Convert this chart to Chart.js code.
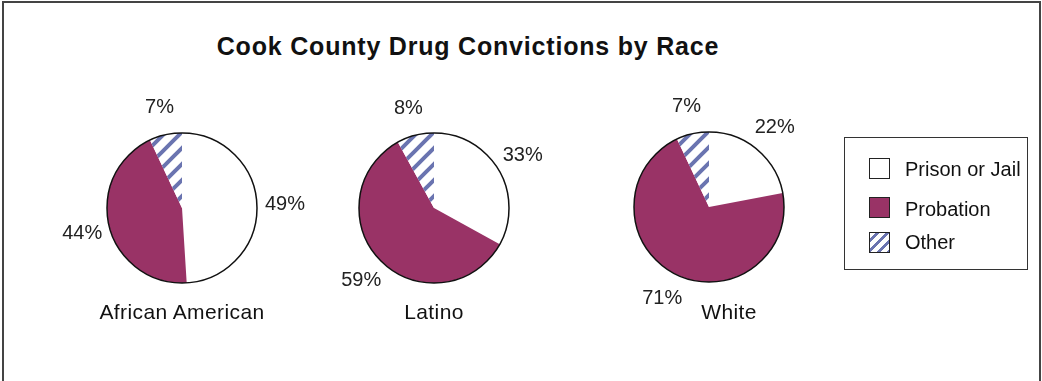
<!DOCTYPE html>
<html>
<head>
<meta charset="utf-8">
<script src="https://cdn.jsdelivr.net/npm/chart.js@4.4.1/dist/chart.umd.min.js"></script>
<style>
  body { margin: 0; background: #fff; font-family: "Liberation Sans", Arial, sans-serif; color: #111; }
  #frame { position: absolute; left: 2px; top: 1px; width: 1035px; height: 420px;
           border: 2px solid #444; border-bottom: none; }
  #title { position: absolute; left: 0; width: 936px; top: 32px; text-align: center;
           font-weight: bold; font-size: 25px; letter-spacing: 0.8px; }
  .pie { position: absolute; }
  .cat { position: absolute; width: 240px; text-align: center; font-size: 21px; top: 300px; letter-spacing: 0.4px; }
  #legend { position: absolute; left: 844px; top: 137px; width: 182px; height: 131px; border: 1.5px solid #333; }
  .sw { position: absolute; left: 24px; width: 19px; height: 19px; border: 1.5px solid #222; }
  .lt { position: absolute; left: 60px; font-size: 20px; }
</style>
</head>
<body>
<div id="frame"></div>
<div id="title">Cook County Drug Convictions by Race</div>
<canvas id="pie0" class="pie" width="300" height="300"></canvas>
<canvas id="pie1" class="pie" width="300" height="300"></canvas>
<canvas id="pie2" class="pie" width="300" height="300"></canvas>
<div id="cats"></div>
<div id="legend">
  <div class="sw" style="top:20px;background:#fff"></div><div class="lt" style="top:20px">Prison or Jail</div>
  <div class="sw" style="top:59px;background:#993366"></div><div class="lt" style="top:60px">Probation</div>
  <div class="sw" style="top:94px;background:repeating-linear-gradient(135deg,#fff 0 4px,#6a74b0 4px 7px)"></div><div class="lt" style="top:93px">Other</div>
</div>
<script>
var groups = ['African American', 'Latino', 'White'];
var outcomes = ['Prison or Jail', 'Probation', 'Other'];
var prisonJail = [49, 33, 22];
var probation = [44, 59, 71];
var other = [7, 8, 7];

// pie centres and name-label offsets (layout only)
var centres = [[182, 208], [434, 208], [709, 207]];
var nameShift = [0, 0, 20];

function hatchPattern() {
    var c = document.createElement('canvas');
    c.width = 16; c.height = 16;
    var g = c.getContext('2d');
    g.fillStyle = '#fff';
    g.fillRect(0, 0, 16, 16);
    g.strokeStyle = '#6a74b0';
    g.lineWidth = 4;
    g.beginPath();
    g.moveTo(-4, 20); g.lineTo(20, -4);
    g.moveTo(-4, 4); g.lineTo(4, -4);
    g.moveTo(12, 20); g.lineTo(20, 12);
    g.stroke();
    return g.createPattern(c, 'repeat');
}

var pctLabels = {
    id: 'pctLabels',
    afterDatasetsDraw: function(chart) {
        var ctx = chart.ctx;
        var meta = chart.getDatasetMeta(0);
        var vals = chart.data.datasets[0].data;
        var p0 = meta.data[0].getProps(['x', 'y', 'outerRadius'], true);
        ctx.save();
        ctx.beginPath();
        ctx.arc(p0.x, p0.y, p0.outerRadius, 0, Math.PI * 2);
        ctx.lineWidth = 1.5;
        ctx.strokeStyle = '#111';
        ctx.stroke();
        ctx.font = '20px "Liberation Sans", Arial, sans-serif';
        ctx.fillStyle = '#222';
        ctx.textAlign = 'center';
        ctx.textBaseline = 'middle';
        meta.data.forEach(function(arc, i) {
            var p = arc.getProps(['startAngle', 'endAngle'], true);
            var mid = (p.startAngle + p.endAngle) / 2;
            var r = p0.outerRadius + 28;
            ctx.fillText(vals[i] + '%', p0.x + Math.cos(mid) * r, p0.y + Math.sin(mid) * r);
        });
        ctx.restore();
    }
};

var hatch = hatchPattern();
var cats = document.getElementById('cats');

for (var i = 0; i < groups.length; i++) {
    var cv = document.getElementById('pie' + i);
    cv.style.left = (centres[i][0] - 150) + 'px';
    cv.style.top = (centres[i][1] - 150) + 'px';

    var lbl = document.createElement('div');
    lbl.className = 'cat';
    lbl.textContent = groups[i];
    lbl.style.left = (centres[i][0] + nameShift[i] - 120) + 'px';
    cats.appendChild(lbl);

    new Chart(cv.getContext('2d'), {
        type: 'pie',
        data: {
            labels: outcomes,
            datasets: [{
                data: [prisonJail[i], probation[i], other[i]],
                backgroundColor: ['#ffffff', '#993366', hatch],
                borderWidth: 0
            }]
        },
        options: {
            responsive: false,
            animation: false,
            layout: { padding: 75 },
            plugins: { legend: { display: false }, tooltip: { enabled: false } }
        },
        plugins: [pctLabels]
    });
}
</script>
</body>
</html>
